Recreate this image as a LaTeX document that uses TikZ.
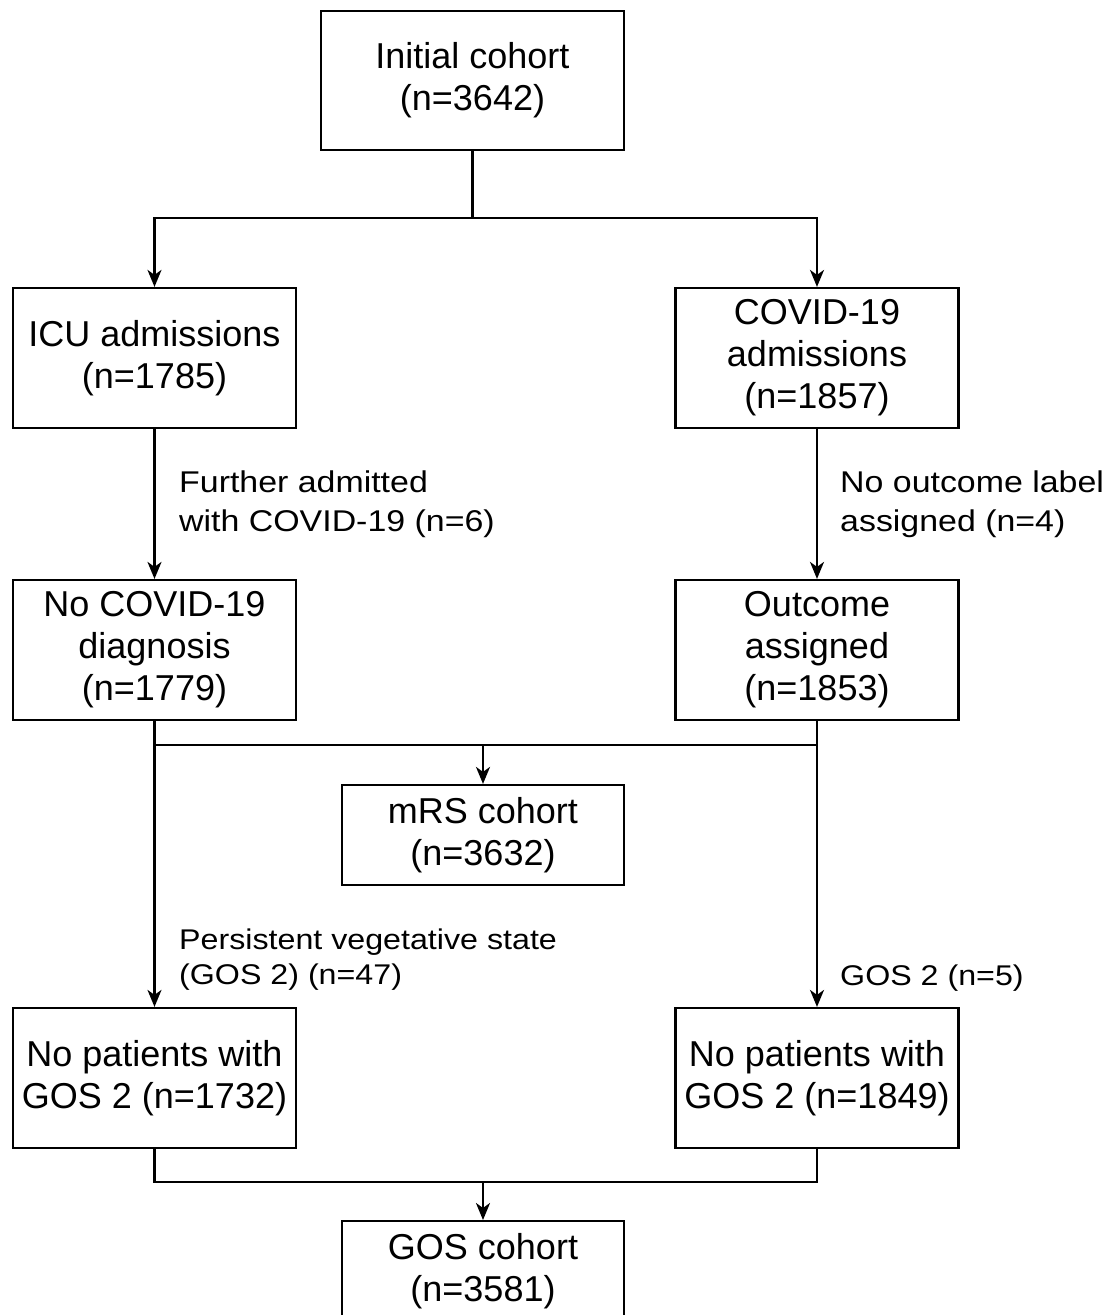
\documentclass[tikz,border=0pt]{standalone}
\usepackage{fontspec}
\setmainfont{Liberation Sans}
\newfontfamily\lblfont[FakeStretch=1.13]{Liberation Sans}
\usetikzlibrary{arrows.meta}
\begin{document}
\begin{tikzpicture}[x=1pt,y=-1pt,
  box/.style={draw, line width=2.2pt, align=center, inner sep=0pt,
    font=\fontsize{36}{42}\selectfont},
  sidebox/.style={box, minimum width=283pt, minimum height=140pt},
  midbox/.style={box, minimum width=282pt, minimum height=100pt},
  lbl/.style={align=left, inner sep=0pt, font=\lblfont\fontsize{30}{39}\selectfont},
  conn/.style={line width=2.2pt},
  arr/.style={conn, -{Stealth[length=17pt,width=14pt,inset=5pt]}}]
\useasboundingbox (0,0) rectangle (1116,1315);
\fill[white] (0,0) rectangle (1116,1315);

\node[box, minimum width=303pt, minimum height=139pt] (init) at (472.5,80.5) {Initial cohort\\(n=3642)};
\node[sidebox] (icu) at (154.5,358) {ICU admissions\\(n=1785)};
\node[sidebox] (cov) at (817,358) {COVID-19\\admissions\\(n=1857)};
\node[sidebox] (nocov) at (154.5,650) {No COVID-19\\diagnosis\\(n=1779)};
\node[sidebox] (outc) at (817,650) {Outcome\\assigned\\(n=1853)};
\node[midbox] (mrs) at (483,835) {mRS cohort\\(n=3632)};
\node[sidebox] (gosL) at (154.5,1078) {No patients with\\GOS 2 (n=1732)};
\node[sidebox] (gosR) at (817,1078) {No patients with\\GOS 2 (n=1849)};
\node[draw, line width=2.2pt, minimum width=282pt, minimum height=120pt, inner sep=0pt, anchor=north] (gos) at (483,1220) {};
\node[box, draw=none] (gostxt) at (483,1271) {GOS cohort\\(n=3581)};

\coordinate (j0) at (472.5,218);
\coordinate (j1) at (483,745);
\coordinate (j2) at (483,1182);

\draw[conn] (init.south) -- (j0);
\draw[arr] (j0) -| (icu.north);
\draw[arr] (j0) -| (cov.north);
\draw[arr] (icu.south) -- (nocov.north);
\draw[arr] (cov.south) -- (outc.north);
\draw[arr] (nocov.south) -- (gosL.north);
\draw[arr] (outc.south) -- (gosR.north);
\draw[conn] (nocov.south |- j1) -- (outc.south |- j1);
\draw[arr] (j1) -- (mrs.north);
\draw[conn] (gosL.south) |- (j2) -| (gosR.south);
\draw[arr] (j2) -- (gos.north);

\node[lbl, anchor=west] (l1) at (179,504) {Further admitted\\with COVID-19 (n=6)};
\node[lbl, anchor=west] (l2) at (840,504) {No outcome label\\assigned (n=4)};
\node[lbl, anchor=west, font=\lblfont\fontsize{28.5}{35}\selectfont] (l3) at (179,960) {Persistent vegetative state\\(GOS 2) (n=47)};
\node[lbl, anchor=base west, font=\lblfont\fontsize{28.5}{35}\selectfont] (l4) at (840,985) {GOS 2 (n=5)};
\end{tikzpicture}
\end{document}
